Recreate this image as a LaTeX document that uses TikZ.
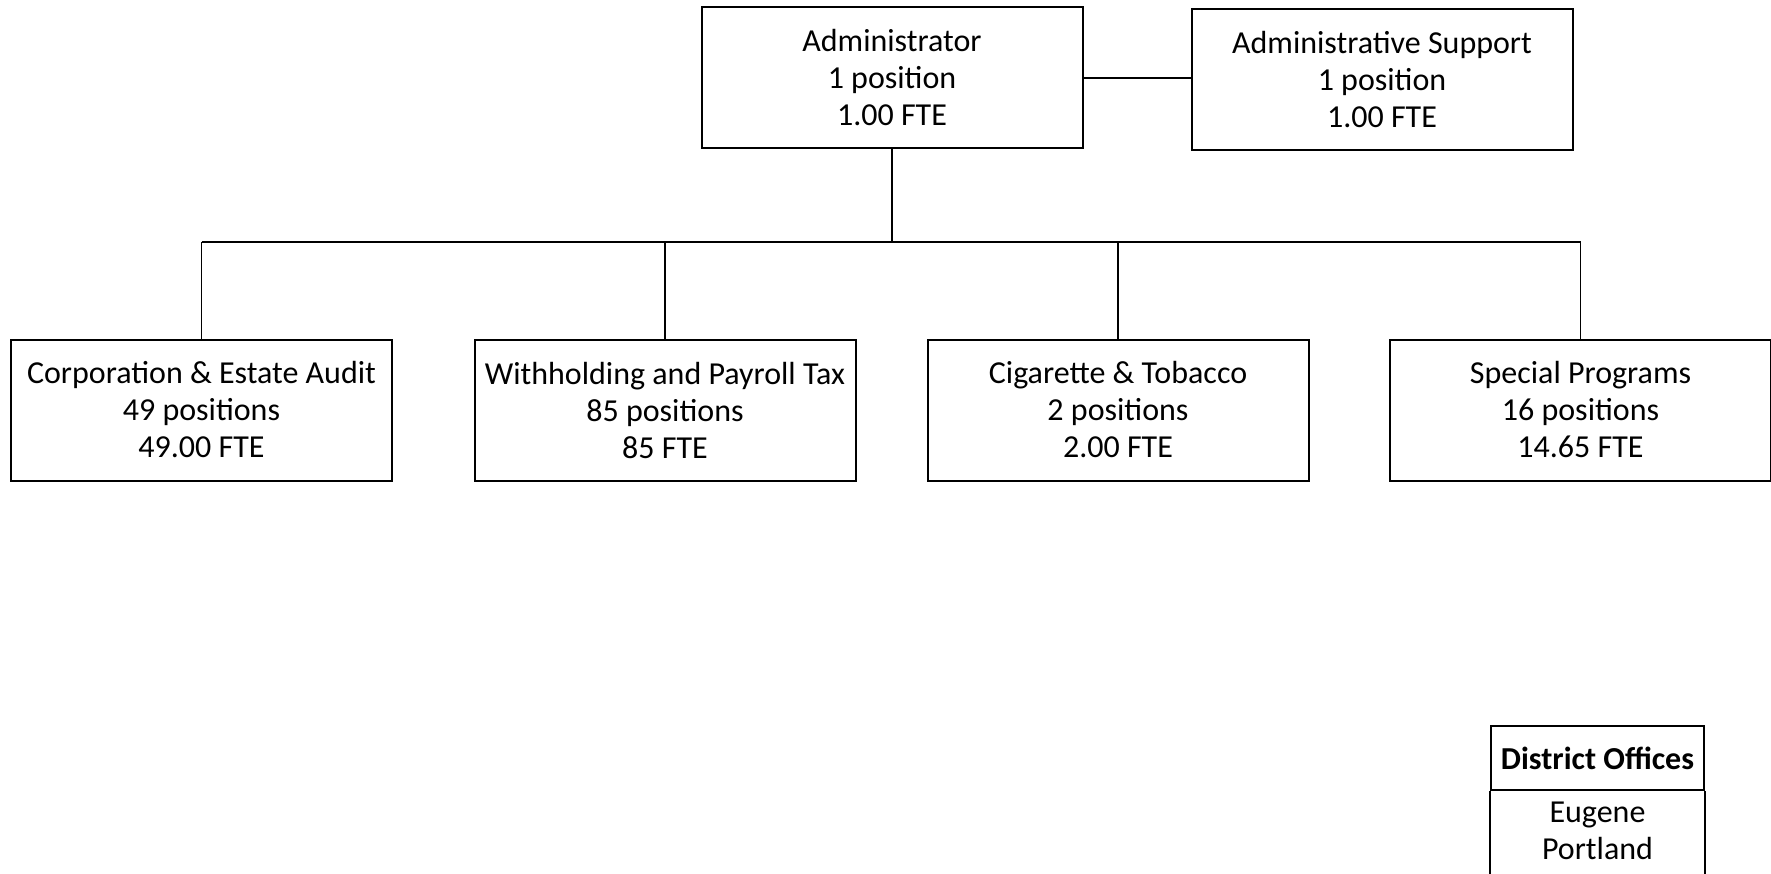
\documentclass[tikz,border=0pt]{standalone}
\usepackage{fontspec}
\setmainfont{Carlito}
\usetikzlibrary{positioning}

\begin{document}
\begin{tikzpicture}[x=0.5pt, y=-0.5pt]
      \tikzset{unit box/.style={draw, line width=1pt, align=center, minimum width=190.5pt, minimum height=70.5pt, inner sep=0pt, font=\fontsize{16}{18.5}\selectfont},
               link/.style={line width=0.8pt}}

      \useasboundingbox (0,0) rectangle (1771,873);

      % Top level
      \node[unit box] (admin) at (892,77.5) {Administrator\\1 position\\1.00 FTE};
      \node[unit box] (support) at (1382,79.5) {Administrative Support\\1 position\\1.00 FTE};
      \draw[link] (admin.east |- 0,78) -- (support.west |- 0,78);

      % Sections
      \node[unit box] (corp) at (201.5,410) {Corporation \& Estate Audit\\49 positions\\49.00 FTE};
      \node[unit box] (payroll) at (665,410) {Withholding and Payroll Tax\\85 positions\\85 FTE};
      \node[unit box] (tobacco) at (1118,410) {Cigarette \& Tobacco\\2 positions\\2.00 FTE};
      \node[unit box] (special) at (1580.5,410) {Special Programs\\16 positions\\14.65 FTE};

      % Bus line
      \coordinate (bus) at (892,242);
      \draw[link] (admin) -- (bus);
      \draw[link] (corp.north |- bus) -- (special.north |- bus);
      \foreach \s in {corp, payroll, tobacco, special}
        \draw[link] (\s.north |- bus) -- (\s.north);

      % District offices table
      \node[unit box, minimum width=106.5pt, minimum height=32pt] (distHead) at (1597.5,758) {\textbf{District Offices}};
      \node[font=\fontsize{16}{18.5}\selectfont, align=center, inner sep=0pt] (offices) at (1597.5,831) {Eugene\\Portland};
      \draw[line width=1pt] (distHead.south west) -- ++(0,100);
      \draw[line width=1pt] (distHead.south east) -- ++(0,100);

    \end{tikzpicture}
\end{document}
